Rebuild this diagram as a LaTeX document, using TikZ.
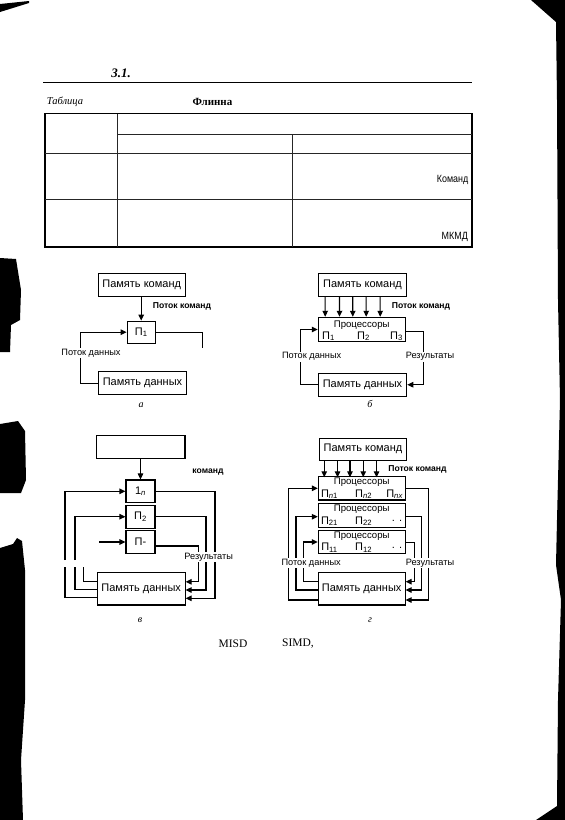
\documentclass[tikz,border=0pt]{standalone}
\usepackage{fontspec}
\setmainfont{Liberation Serif}
\setsansfont{Liberation Sans}
\usetikzlibrary{arrows.meta,calc}
\begin{document}
\begin{tikzpicture}[x=1pt,y=-1pt,
  box/.style={draw,line width=1.1pt,inner sep=0pt,font=\sffamily\fontsize{11}{12}\selectfont},
  pbox/.style={draw,line width=1.1pt,inner sep=0pt},
  lbl/.style={inner sep=1pt,font=\sffamily\fontsize{9.2}{10}\selectfont},
  wlbl/.style={lbl,fill=white},
  blbl/.style={inner sep=1pt,font=\sffamily\bfseries\fontsize{8.6}{10}\selectfont},
  ptxt/.style={inner sep=0pt,font=\sffamily\fontsize{9.6}{10}\selectfont},
  pn/.style={inner sep=0pt,font=\sffamily\fontsize{11}{12}\selectfont},
  figcap/.style={inner sep=0pt,font=\rmfamily\itshape\fontsize{10}{11}\selectfont},
  arr/.style={line width=1.1pt,-{Triangle[length=6pt,width=5.5pt]}},
  ln/.style={line width=1.1pt},
  tl/.style={line width=0.8pt,black!85},
  scan/.style={fill=black,draw=none}
]
\useasboundingbox (0,0) rectangle (565,820);

% scanner edges
\fill[scan] (0,4) -- (29,1) -- (29,3) -- (0,12) -- cycle;
\fill[scan] (531,0) -- (565,0) -- (565,820) -- (536,820) -- (557,806) -- (558,700) -- (561,600) -- (556,565) -- (557,520) -- (560,400) -- (558,300) -- (557,100) -- (556,22) -- cycle;
\fill[scan] (0,258) -- (16,259) -- (21,290) -- (20,320) -- (11,325) -- (10,352) -- (0,352) -- cycle;
\fill[scan] (0,424) -- (18,421) -- (25,431) -- (26,480) -- (21,493) -- (0,493) -- cycle;
\fill[scan] (0,548) -- (13,544) -- (17,538) -- (22,541) -- (25,570) -- (25,700) -- (21,760) -- (23,820) -- (0,820) -- cycle;

% header
\node[inner sep=0pt,font=\rmfamily\bfseries\itshape\fontsize{13}{14}\selectfont] (hnum) at (121,73) {3.1.};
\coordinate (rl) at (43,82.7);
\coordinate (rr) at (472,82.7);
\draw[line width=1.5pt] (rl) -- (rr);
\node[inner sep=0pt,font=\rmfamily\itshape\fontsize{10.5}{12}\selectfont] (htab) at (65,102) {Таблица};
\node[inner sep=0pt,font=\rmfamily\bfseries\fontsize{11}{12}\selectfont] (hfl) at (212.5,102) {Флинна};

% table
\draw[line width=1.1pt] (45,113.5) rectangle (472,247);
\draw[tl] (117,113.5) -- (117,247);
\draw[tl] (117,134.3) -- (472,134.3);
\draw[tl] (45,153.5) -- (472,153.5);
\draw[tl] (45,199.3) -- (472,199.3);
\draw[tl] (292,134.3) -- (292,247);
\node[anchor=east,inner sep=0pt,font=\sffamily\fontsize{10.5}{12}\selectfont,xscale=0.85] (tk) at (468.5,180) {Команд};
\node[anchor=east,inner sep=0pt,font=\sffamily\fontsize{10.5}{12}\selectfont,xscale=0.85] (tm) at (468,237) {МКМД};

% ---------- a ----------
\node[box,minimum width=87,minimum height=23] (ak) at (141.7,284.7) {Память команд};
\node[box,minimum width=28,minimum height=22] (ap) at (141.2,332.2) {П\textsubscript{1}};
\node[box,minimum width=88,minimum height=23] (ad) at (142.5,383.3) {Память данных};
\draw[arr] (ap.north |- ak.south) -- (ap.north);
\node[blbl] (alk) at (182,306.7) {Поток команд};
\coordinate (aL) at (80.3,383.3);
\draw[arr] (ad.west) -- (aL) |- (ap.west);
\node[wlbl] (ald) at (91,353) {Поток данных};
\coordinate (aR) at (202.3,348.3);
\draw[ln] (ap.east) -| (aR);
\node[figcap] (acap) at (141,405) {а};

% ---------- b ----------
\node[box,minimum width=88.4,minimum height=22.7] (bk) at (362.5,284.7) {Память команд};
\node[pbox,minimum width=86.7,minimum height=24.4] (bp) at (361.7,329.5) {};
\node[ptxt] (bpt) at (361.7,325.3) {Процессоры};
\node[pn] (bp1) at (328.5,336.3) {П\textsubscript{1}};
\node[pn] (bp2) at (363.5,336.3) {П\textsubscript{2}};
\node[pn] (bp3) at (396.5,336.3) {П\textsubscript{3}};
\node[box,minimum width=88.4,minimum height=22.7] (bd) at (362.5,384.7) {Память данных};
\foreach \dx in {7.4,21.7,35,48.4,62.4}
  \draw[arr] ($(bk.south west)+(\dx,0)$) -- ($(bp.north west)+(\dx,0)$);
\node[blbl] (blk) at (421,306.7) {Поток команд};
\coordinate (bL) at (300.7,384.7);
\draw[arr] (bd.west) -- (bL) |- (bp.west);
\coordinate (bR) at (423.3,331.5);
\draw[arr] ($(bp.east)+(0,2)$) -- (bR) |- (bd.east);
\node[wlbl] (bld) at (311.7,356.7) {Поток данных};
\node[wlbl] (blr) at (430,356.7) {Результаты};
\node[figcap] (bcap) at (370,404) {б};

% ---------- v ----------
\node[box,minimum width=88.3,minimum height=23.3] (vk) at (140.8,446.7) {};
\node[box,minimum width=29,minimum height=22.7] (v1) at (140.5,491.3) {1\textsubscript{\textit{n}}};
\node[box,minimum width=29,minimum height=23.3] (v2) at (140.5,516.7) {П\textsubscript{2}};
\node[box,minimum width=29,minimum height=22.6] (v3) at (140.5,542) {П-};
\node[box,minimum width=87.7,minimum height=32.3] (vd) at (141.2,588.8) {Память данных};
\draw[arr] (v1.north |- vk.south) -- (v1.north);
\node[blbl] (vlk) at (208,471.7) {команд};
% left side
\coordinate (vL1a) at (65,560);
\coordinate (vL1b) at (65,567);
\coordinate (vL2a) at (75,560);
\coordinate (vL2b) at (75,567);
\coordinate (vL3b) at (83.3,567);
\coordinate (vS3) at (99.3,542);
\draw[arr] (vL1a) |- (v1.west);
\draw[ln] ($(vd.west)+(0,9)$) -| (vL1b);
\draw[arr] (vL2a) |- (v2.west);
\draw[ln] ($(vd.west)+(0,0.7)$) -| (vL2b);
\draw[ln] ($(vd.west)+(0,-7)$) -| (vL3b);
\draw[arr] (vS3) -- (v3.west);
% right side
\coordinate (vR1) at (215,491.3);
\coordinate (vR2) at (206,516.7);
\coordinate (vR3) at (198.3,546);
\draw[arr] (v1.east) -- (vR1) |- ($(vd.east)+(0,9.5)$);
\draw[arr] (v2.east) -- (vR2) |- ($(vd.east)+(0,1.2)$);
\draw[arr] ($(v3.east)+(0,4)$) -- (vR3) |- ($(vd.east)+(0,-7)$);
\node[wlbl] (vlr) at (208.7,557.3) {Результаты};
\node[figcap] (vcap) at (140,620) {в};

% ---------- g ----------
\node[box,minimum width=87.4,minimum height=21.7] (gk) at (363,449.2) {Память команд};
\node[pbox,minimum width=86.7,minimum height=23.3] (gp1) at (361.7,488.3) {};
\node[pbox,minimum width=86.7,minimum height=24] (gp2) at (361.7,515.3) {};
\node[pbox,minimum width=86.7,minimum height=22.6] (gp3) at (361.7,542) {};
\node[ptxt] (g1t) at (361.7,482.3) {Процессоры};
\node[pn] (g11) at (329.5,494.3) {П\textsubscript{\textit{n}1}};
\node[pn] (g12) at (363.7,494.3) {П\textsubscript{\textit{n}2}};
\node[pn] (g13) at (394.7,494.3) {П\textsubscript{\textit{nx}}};
\node[ptxt] (g2t) at (361.7,509.3) {Процессоры};
\node[pn] (g21) at (329.5,521.3) {П\textsubscript{21}};
\node[pn] (g22) at (363.7,521.3) {П\textsubscript{22}};
\node[pn] (g23) at (397,521.3) {. .};
\node[ptxt] (g3t) at (361.7,536) {Процессоры};
\node[pn] (g31) at (329.5,547.8) {П\textsubscript{11}};
\node[pn] (g32) at (363.7,547.8) {П\textsubscript{12}};
\node[pn] (g33) at (397,547.8) {. .};
\node[box,minimum width=86.7,minimum height=32.3] (gd) at (361.7,588.8) {Память данных};
\foreach \dx in {5.5,18.8,31.2,44.5,57.8}
  \draw[arr] ($(gk.south west)+(\dx,0)$) -- ($(gk.south west)+(\dx,16.7)$);
\node[blbl] (glk) at (417.5,469) {Поток команд};
\coordinate (gL1) at (288.3,600);
\coordinate (gL2) at (296,590);
\coordinate (gL3) at (303.3,581.7);
\draw[arr] ($(gd.west)+(0,11.2)$) -- (gL1) |- (gp1.west);
\draw[arr] ($(gd.west)+(0,1.2)$) -- (gL2) |- ($(gp2.west)+(0,1.4)$);
\draw[arr] ($(gd.west)+(0,-7.1)$) -- (gL3) |- (gp3.west);
\coordinate (gR1) at (428.3,488.3);
\coordinate (gR2) at (421.7,516.7);
\coordinate (gR3) at (414.3,542.7);
\draw[arr] (gp1.east) -- (gR1) |- ($(gd.east)+(0,11.2)$);
\draw[arr] ($(gp2.east)+(0,1.4)$) -- (gR2) |- ($(gd.east)+(0,1.2)$);
\draw[arr] ($(gp3.east)+(0,0.7)$) -- (gR3) |- ($(gd.east)+(0,-7.1)$);
\node[wlbl] (gld) at (311.2,563.3) {Поток данных};
\node[wlbl] (glr) at (430,563.3) {Результаты};
\node[figcap] (gcap) at (370,620) {г};

% caption
\node[inner sep=0pt,font=\rmfamily\fontsize{11.5}{13}\selectfont] (c1) at (233,644) {MISD};
\node[inner sep=0pt,font=\rmfamily\fontsize{11.5}{13}\selectfont] (c2) at (298,644) {SIMD,};
\end{tikzpicture}
\end{document}
